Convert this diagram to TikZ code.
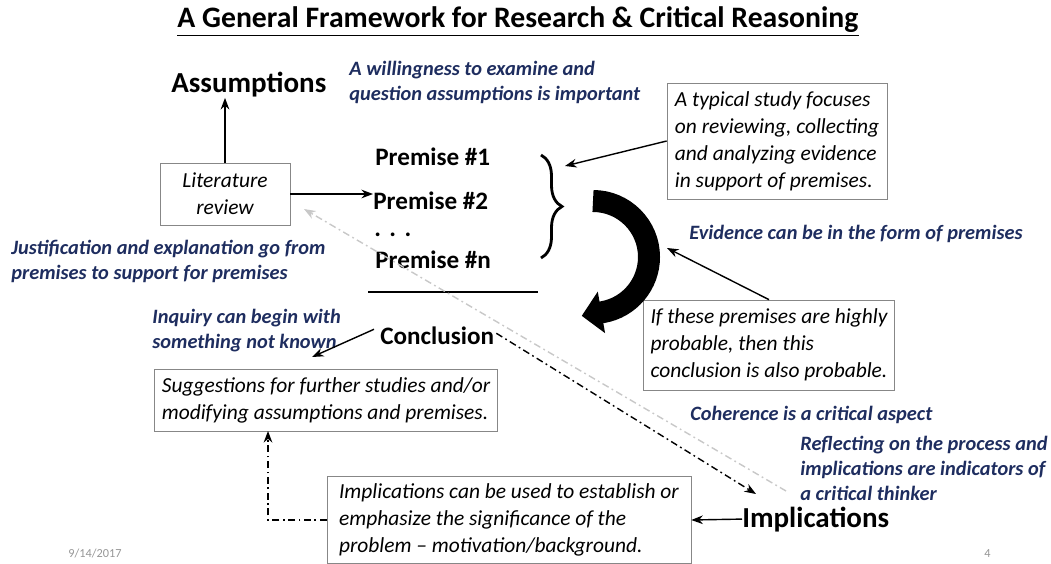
\documentclass[tikz,border=0pt]{standalone}
\usepackage{fontspec}
\setmainfont{Carlito}
\usepackage{tikz}
\usetikzlibrary{arrows.meta, positioning, decorations.pathreplacing}

\definecolor{notenavy}{RGB}{30,45,95}
\definecolor{boxgray}{RGB}{135,135,135}
\definecolor{faintgray}{RGB}{200,200,200}
\definecolor{footgray}{RGB}{150,150,150}

\begin{document}
\begin{tikzpicture}[
    x=0.02cm, y=-0.02cm,
    heading/.style={font=\fontsize{16.9}{20}\selectfont\bfseries, inner sep=0pt},
    term/.style={font=\fontsize{14.3}{17}\selectfont\bfseries, inner sep=0pt, anchor=base west},
    bigterm/.style={font=\fontsize{16.5}{20}\selectfont\bfseries, inner sep=0pt, anchor=base west},
    note/.style={font=\fontsize{11.6}{14.2}\selectfont\bfseries\itshape, text=notenavy, align=left, inner sep=0pt, anchor=north west},
    textbox/.style={rectangle, draw=boxgray, font=\fontsize{12.2}{15.3}\selectfont\itshape, align=left, inner sep=4pt},
    arrow/.style={thick, ->, >=Stealth},
    dashdot/.style={dash pattern=on 4pt off 2pt on 1pt off 2pt},
    foot/.style={font=\fontsize{7}{8}\selectfont, text=footgray, inner sep=0pt, anchor=base west},
]
    \useasboundingbox (0,0) rectangle (1051,564);

    % Heading
    \node[heading, anchor=base] (title) at (518,28) {\underline{A General Framework for Research \& Critical Reasoning}};

    % Main terms
    \node[bigterm] (assume) at (171,93) {Assumptions};
    \node[term] (prem1) at (375,166) {Premise \#1};
    \node[term] (prem2) at (373,210) {Premise \#2};
    \node[term] (dots) at (374,236) {.\,\,.\,\,.};
    \node[term] (premn) at (375,269) {Premise \#n};
    \node[term] (concl) at (380,344) {Conclusion};
    \node[bigterm] (impl) at (742,527) {Implications};

    % Boxes
    \node[textbox, align=center, minimum width=2.6cm, minimum height=1.24cm] (litrev) at (225,194) {Literature\\review};
    \node[textbox, minimum width=4.4cm, minimum height=2.32cm] (studybox) at (777,141)
        {A typical study focuses\\on reviewing, collecting\\and analyzing evidence\\in support of premises.};
    \node[textbox, minimum width=4.94cm, minimum height=1.8cm] (probbox) at (769,345)
        {If these premises are highly\\probable, then this\\conclusion is also probable.};
    \node[textbox, minimum width=6.84cm, minimum height=1.24cm] (suggbox) at (326,400)
        {Suggestions for further studies and/or\\modifying assumptions and premises.};
    \node[textbox, minimum width=7.28cm, minimum height=1.7cm] (implbox) at (509,520)
        {Implications can be used to establish or\\emphasize the significance of the\\problem -- motivation/background.};

    % Notes
    \node[note] (willnote) at (349,61) {A willingness to examine and\\question assumptions is important};
    \node[note] (justnote) at (11,240) {Justification and explanation go from\\premises to support for premises};
    \node[note, anchor=base west] (evnote) at (689,239) {Evidence can be in the form of premises};
    \node[note] (inqnote) at (152,309) {Inquiry can begin with\\something not known};
    \node[note, anchor=base west] (cohnote) at (690,420) {Coherence is a critical aspect};
    \node[note, font=\fontsize{11.6}{14.2}\selectfont\bfseries\itshape] (reflnote) at (800,436) {Reflecting on the process and\\implications are indicators of\\a critical thinker};

    % Footer
    \node[foot] (date) at (68,557) {9/14/2017};
    \node[foot] (pagenum) at (984,557) {4};

    % Free ends
    \coordinate (rulestart) at (368,292);
    \coordinate (ruleend) at (538,292);
    \coordinate (bracetop) at (541,155);
    \coordinate (bracebot) at (541,258);
    \coordinate (bracetip) at (565,166);
    \coordinate (turnside) at (667,248);
    \coordinate (inqend) at (312,357);
    \coordinate (suggfoot) at (268,431);
    \coordinate (impltop) at (756,494);
    \coordinate (reflstart) at (786,491);
    \coordinate (litend) at (304,209);

    % Premises gathered by a brace, then the rule
    \draw[line width=1.6pt, decorate, decoration={brace, amplitude=0.42cm}] (bracetop) -- (bracebot);
    \draw[line width=1.2pt] (rulestart) -- (ruleend);

    % Big turning arrow from premises to conclusion
    \draw[line width=0.44cm, -{Triangle[length=0.4cm, width=0.82cm]}]
        (593,201) arc (-90:80:56) -- ++(-21,3.7);

    % Connect everything
    \draw[arrow] (litrev.north) -- (litrev.north |- assume.south);
    \draw[arrow] (litrev.east) -- (litrev.east -| prem2.west);
    \draw[arrow] (studybox.west) -- (bracetip);
    \draw[arrow] (probbox.north) -- (turnside);
    \draw[arrow] (concl.west) ++(-6,-6) -- (inqend);
    \draw[arrow] (impl.west) -- (implbox.east);
    \draw[arrow, dashdot] (implbox.west) -| (suggfoot);
    \draw[arrow, dashdot] (concl.east) ++(2,-2) -- (impltop);
    \draw[arrow, dashdot, faintgray] (reflstart) -- (litend);
\end{tikzpicture}
\end{document}
